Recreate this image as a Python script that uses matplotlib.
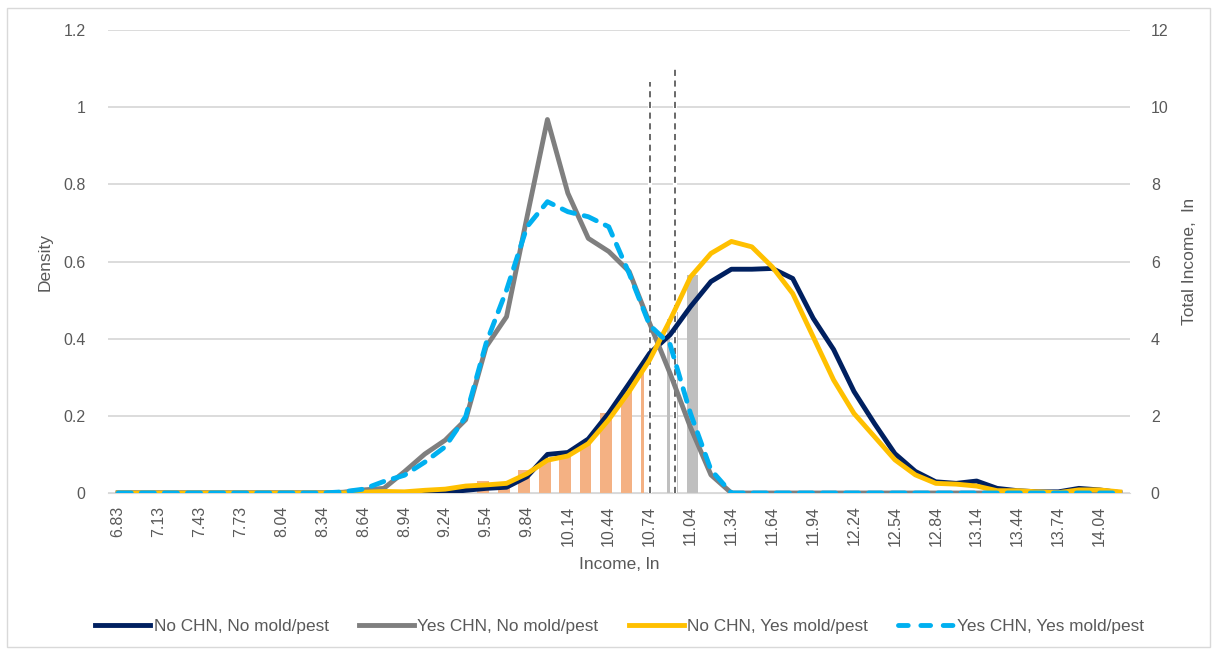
"""
Income density by CHN / mold-pest group, with total income bars.
"""

import matplotlib.pyplot as plt
from matplotlib.lines import Line2D

# x categories (income, ln)
cats = [
    "6.83", "6.98", "7.13", "7.28", "7.43", "7.58", "7.73", "7.88", "8.04", "8.19",
    "8.34", "8.49", "8.64", "8.79", "8.94", "9.09", "9.24", "9.39", "9.54", "9.69",
    "9.84", "9.99", "10.14", "10.29", "10.44", "10.59", "10.74", "10.89", "11.04", "11.19",
    "11.34", "11.49", "11.64", "11.79", "11.94", "12.09", "12.24", "12.39", "12.54", "12.69",
    "12.84", "12.99", "13.14", "13.29", "13.44", "13.59", "13.74", "13.89", "14.04", "14.19",
]
cat_start = 6.83
cat_step = 0.15025

no_chn_no_mold = [
    0, 0, 0, 0, 0, 0, 0, 0, 0, 0,
    0, 0, 0, 0, 0, 0, 0.002, 0.007, 0.012, 0.015,
    0.042, 0.100, 0.105, 0.140, 0.207, 0.284, 0.362, 0.410, 0.483, 0.548,
    0.580, 0.580, 0.582, 0.556, 0.453, 0.372, 0.263, 0.180, 0.102, 0.056,
    0.029, 0.025, 0.031, 0.012, 0.006, 0.003, 0.003, 0.012, 0.008, 0.001,
]
yes_chn_no_mold = [
    0, 0, 0, 0, 0, 0, 0, 0, 0, 0,
    0, 0.002, 0.008, 0.012, 0.055, 0.101, 0.137, 0.190, 0.379, 0.457,
    0.715, 0.968, 0.777, 0.660, 0.626, 0.574, 0.440, 0.310, 0.170, 0.047,
    0, 0, 0, 0, 0, 0, 0, 0, 0, 0,
    0, 0, 0, 0, 0, 0, 0, 0, 0, 0,
]
no_chn_yes_mold = [
    0, 0, 0, 0, 0, 0, 0, 0, 0, 0,
    0, 0, 0.002, 0.004, 0.003, 0.007, 0.010, 0.018, 0.021, 0.025,
    0.050, 0.085, 0.096, 0.128, 0.190, 0.263, 0.345, 0.448, 0.560, 0.621,
    0.652, 0.638, 0.586, 0.517, 0.405, 0.293, 0.206, 0.146, 0.086, 0.047,
    0.025, 0.023, 0.018, 0.006, 0.006, 0.003, 0.001, 0.008, 0.008, 0.003,
]
yes_chn_yes_mold = [
    0, 0, 0, 0, 0, 0, 0, 0, 0, 0,
    0, 0.003, 0.010, 0.030, 0.046, 0.080, 0.120, 0.198, 0.388, 0.526,
    0.690, 0.755, 0.729, 0.716, 0.690, 0.569, 0.435, 0.385, 0.206, 0.060,
    0, 0, 0, 0, 0, 0, 0, 0, 0, 0,
    0, 0, 0, 0, 0, 0, 0, 0, 0, 0,
]

# bars on the secondary axis (Total Income, ln)
orange_x = [9.513, 9.665, 9.815, 9.966, 10.116, 10.266, 10.416, 10.567, 10.684, 10.741]
orange_h = [0.30, 0.15, 0.60, 0.85, 1.00, 1.30, 2.07, 2.67, 3.20, 3.50]
orange_w = [0.57, 0.57, 0.57, 0.57, 0.57, 0.57, 0.57, 0.57, 0.17, 0.17]
gray_x = [10.876, 10.935, 11.052]
gray_h = [4.50, 4.70, 5.65]
gray_w = [0.15, 0.15, 0.54]

# vertical reference lines (income, top in density units)
vline_x = [10.74, 10.92]
vline_top = [1.065, 1.10]

TXT = "#595959"
GRID = "#D9D9D9"
plt.rcParams["font.family"] = ["Liberation Sans", "DejaVu Sans"]


def to_pos(v):
    # income value -> position on the category axis
    return (v - cat_start) / cat_step


fig = plt.figure(figsize=(12.17, 6.51), dpi=100)
fig.patches.append(
    plt.Rectangle((0.006, 0.006), 0.988, 0.982, transform=fig.transFigure,
                  fill=False, edgecolor=GRID, linewidth=1)
)
ax2 = fig.add_axes([0.0887, 0.2427, 0.8398, 0.7112])
ax = ax2.twinx()
ax.set_zorder(ax2.get_zorder() + 1)
ax.patch.set_visible(False)

# secondary: grid, bars, reference lines
ax2.set_ylim(0, 12)
ax2.set_yticks(range(0, 13, 2))
ax2.grid(axis="y", color=GRID, linewidth=1.3)
ax2.set_axisbelow(True)
ax2.bar([to_pos(v) for v in orange_x], orange_h, width=orange_w,
        color="#F4B183", zorder=1)
ax2.bar([to_pos(v) for v in gray_x], gray_h, width=gray_w,
        color="#BFBFBF", zorder=1)
for v, top in zip(vline_x, vline_top):
    ax2.vlines(to_pos(v), 0, top * 10, color="white", linewidth=3, zorder=2)
    ax2.vlines(to_pos(v), 0, top * 10, color="#404040", linewidth=1.1,
               linestyles=(0, (4, 3)), zorder=3)

# primary: density curves
x = list(range(len(cats)))
lw = 3.5
ax.plot(x, no_chn_no_mold, color="#002060", lw=lw, solid_joinstyle="round",
        label="No CHN, No mold/pest")
ax.plot(x, yes_chn_no_mold, color="#7F7F7F", lw=lw, solid_joinstyle="round",
        label="Yes CHN, No mold/pest")
ax.plot(x, no_chn_yes_mold, color="#FFC000", lw=lw, solid_joinstyle="round",
        label="No CHN, Yes mold/pest")
ax.plot(x, yes_chn_yes_mold, color="#00B0F0", lw=lw, dashes=(2.7, 2.05),
        dash_capstyle="round", label="Yes CHN, Yes mold/pest")
ax.set_ylim(0, 1.2)

# left axis should show density -> swap sides
ax.yaxis.tick_left()
ax.yaxis.set_label_position("left")
ax2.yaxis.tick_right()
ax2.yaxis.set_label_position("right")
ax.set_yticks([0, 0.2, 0.4, 0.6, 0.8, 1.0, 1.2])
ax.set_yticklabels(["0", "0.2", "0.4", "0.6", "0.8", "1", "1.2"])

ax2.set_xticks(x[::2])
ax2.set_xticklabels(cats[::2], rotation=90)
ax2.set_xlim(-0.5, len(cats) - 0.5)
ax.tick_params(axis="x", bottom=False, labelbottom=False)

for a in (ax, ax2):
    for s in a.spines.values():
        s.set_visible(False)
    a.tick_params(length=0, colors=TXT, labelsize=11.5)
ax2.spines["bottom"].set_visible(True)
ax2.spines["bottom"].set_color(GRID)
ax2.tick_params(axis="x", pad=9)
ax.tick_params(axis="y", pad=16)
ax2.tick_params(axis="y", pad=15)

ax.set_ylabel("Density", color=TXT, fontsize=12.5, labelpad=8)
ax2.set_ylabel("Total Income,  ln", color=TXT, fontsize=12.5, labelpad=10)
ax2.set_xlabel("Income, ln", color=TXT, fontsize=12.5, labelpad=8)

handles = [
    Line2D([], [], color="#002060", lw=lw),
    Line2D([], [], color="#7F7F7F", lw=lw),
    Line2D([], [], color="#FFC000", lw=lw),
    Line2D([], [], color="#00B0F0", lw=lw, dashes=(2.0, 2.6), dash_capstyle="round"),
]
labels = ["No CHN, No mold/pest", "Yes CHN, No mold/pest",
          "No CHN, Yes mold/pest", "Yes CHN, Yes mold/pest"]
leg = fig.legend(handles, labels, loc="center", bbox_to_anchor=(0.509, 0.038),
                 ncol=4, frameon=False, fontsize=12.4, handlelength=3.2,
                 handletextpad=0.2, columnspacing=1.75)
for t in leg.get_texts():
    t.set_color(TXT)

fig.savefig("out.png", dpi=100)
